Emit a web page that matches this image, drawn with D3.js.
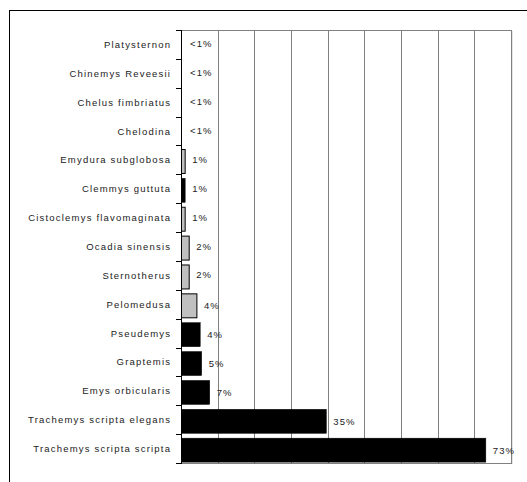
<!DOCTYPE html>
<html>
<head>
<meta charset="utf-8">
<script src="https://cdn.jsdelivr.net/npm/d3@7"></script>
<style>
  html, body { margin: 0; padding: 0; background: #fff; }
  svg { display: block; }
  text { font-family: "Liberation Sans", Arial, sans-serif; }
</style>
</head>
<body>
<svg id="chart" width="527" height="482"></svg>
<script>
// ---- data ----
const categories = [
  "Platysternon",
  "Chinemys Reveesii",
  "Chelus fimbriatus",
  "Chelodina",
  "Emydura subglobosa",
  "Clemmys guttuta",
  "Cistoclemys flavomaginata",
  "Ocadia sinensis",
  "Sternotherus",
  "Pelomedusa",
  "Pseudemys",
  "Graptemis",
  "Emys orbicularis",
  "Trachemys scripta elegans",
  "Trachemys scripta scripta"
];
const values = [0, 0, 0, 0, 1, 1, 1, 2.1, 2.1, 4.2, 5.1, 5.5, 7.7, 39.5, 83];
const percentLabels = ["<1%", "<1%", "<1%", "<1%", "1%", "1%", "1%", "2%", "2%", "4%", "4%", "5%", "7%", "35%", "73%"];
const groups = ["A", "A", "A", "A", "B", "A", "B", "B", "B", "B", "A", "A", "A", "A", "A"];
const axisTicks = [0, 10, 20, 30, 40, 50, 60, 70, 80, 90];

// ---- layout / style ----
const groupFill = { A: "#000000", B: "#c0c0c0" };
const plot = { left: 181, right: 511, top: 30, bottom: 463 };

const svg = d3.select("#chart");

// outer frame (extends beyond the window on right/bottom)
svg.append("rect")
  .attr("x", 9.5).attr("y", 10.5)
  .attr("width", 700).attr("height", 700)
  .attr("fill", "none").attr("stroke", "#000").attr("stroke-width", 1);

const x = d3.scaleLinear().domain([0, 90]).range([plot.left, plot.right]);
const y = d3.scaleBand().domain(categories).range([plot.top, plot.bottom]).paddingInner(0).paddingOuter(0);
const bw = y.bandwidth();

// gridlines
svg.append("g").selectAll("line")
  .data(axisTicks.filter(t => t > 0))
  .join("line")
  .attr("x1", d => Math.round(x(d)) + 0.5).attr("x2", d => Math.round(x(d)) + 0.5)
  .attr("y1", plot.top).attr("y2", plot.bottom)
  .attr("stroke", "#808080").attr("stroke-width", 1);

// plot border top & bottom
svg.append("line")
  .attr("x1", plot.left).attr("x2", Math.round(x(90)) + 1)
  .attr("y1", plot.top + 0.5).attr("y2", plot.top + 0.5)
  .attr("stroke", "#808080");
svg.append("line")
  .attr("x1", plot.left).attr("x2", Math.round(x(90)) + 1)
  .attr("y1", plot.bottom + 0.5).attr("y2", plot.bottom + 0.5)
  .attr("stroke", "#808080");
svg.append("line")
  .attr("x1", Math.round(x(90)) + 1.5).attr("x2", Math.round(x(90)) + 1.5)
  .attr("y1", plot.top + 1).attr("y2", plot.bottom + 1)
  .attr("stroke", "#e4e4e4");

// bars
const rows = categories.map((c, i) => ({ c, v: values[i], lab: percentLabels[i], g: groups[i] }));
svg.append("g").selectAll("rect")
  .data(rows.filter(d => d.v > 0))
  .join("rect")
  .attr("x", x(0) + 0.5)
  .attr("y", d => y(d.c) + bw * 0.14)
  .attr("width", d => x(d.v) - x(0))
  .attr("height", bw * 0.83)
  .attr("fill", d => groupFill[d.g])
  .attr("stroke", "#000")
  .attr("stroke-width", d => d.g === "B" ? 1 : 0.5);

// value axis line + category ticks
svg.append("line")
  .attr("x1", plot.left + 0.5).attr("x2", plot.left + 0.5)
  .attr("y1", plot.top).attr("y2", plot.bottom + 1)
  .attr("stroke", "#000");
const boundaries = categories.map(c => y(c)).concat([plot.bottom]);
svg.append("g").selectAll("line")
  .data(boundaries)
  .join("line")
  .attr("x1", plot.left - 5).attr("x2", plot.left)
  .attr("y1", d => Math.round(d) + 0.5).attr("y2", d => Math.round(d) + 0.5)
  .attr("stroke", "#000");

// category labels
svg.append("g").selectAll("text")
  .data(categories)
  .join("text")
  .attr("x", 171.2)
  .attr("y", d => y(d) + bw / 2 + 1)
  .attr("text-anchor", "end")
  .attr("dominant-baseline", "middle")
  .attr("font-size", "9.5px")
  .attr("letter-spacing", "1.2px")
  .attr("fill", "#222")
  .text(d => d);

// percent labels
svg.append("g").selectAll("text")
  .data(rows)
  .join("text")
  .attr("x", d => x(d.v) + (d.v > 0 ? 7.5 : 9))
  .attr("y", d => y(d.c) + bw / 2 + (d.v > 3 ? 2.5 : 0.5))
  .attr("dominant-baseline", "middle")
  .attr("font-size", "9.5px")
  .attr("letter-spacing", "1.1px")
  .attr("fill", "#222")
  .text(d => d.lab);
</script>
</body>
</html>
